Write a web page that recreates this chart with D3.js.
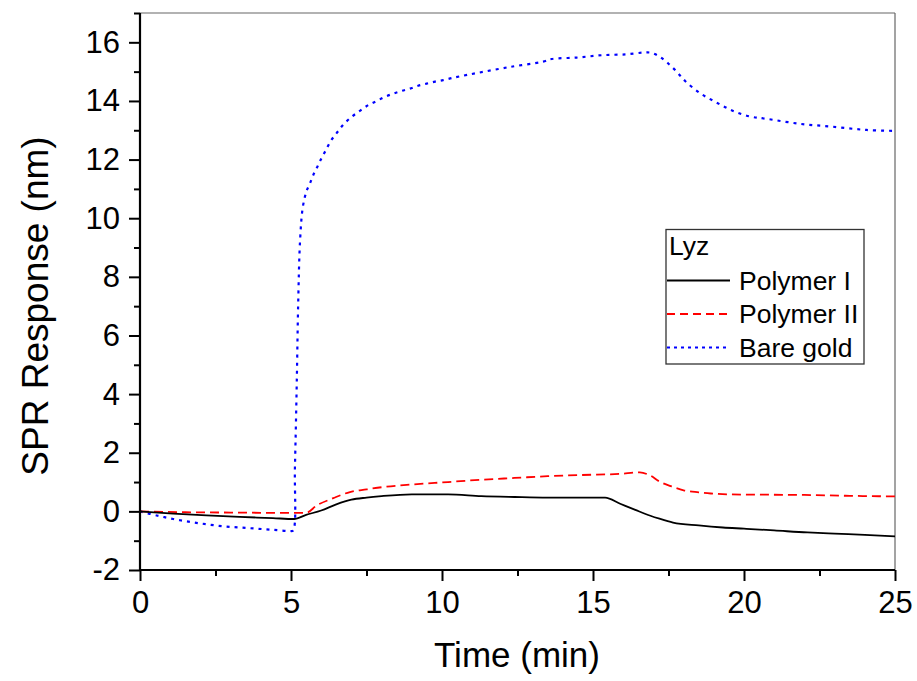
<!DOCTYPE html>
<html>
<head>
<meta charset="utf-8">
<script src="https://cdn.jsdelivr.net/npm/d3@7"></script>
<style>
  body { margin: 0; background: #fff; }
  svg { display: block; font-family: "Liberation Sans", Arial, sans-serif; }
</style>
</head>
<body>
<svg id="chart" width="917" height="681"></svg>
<script>
// ---- data ----
const xTickValues = [0, 5, 10, 15, 20, 25];
const yTickValues = [-2, 0, 2, 4, 6, 8, 10, 12, 14, 16];

const polymer1Time = [0, 1.1, 2.2, 3.3, 4.4, 5.1, 5.5, 6.0, 6.5, 7.0, 7.5, 8.0, 9.0, 10.2, 11.3, 12.4, 13.5, 14.6, 15.4, 15.9, 16.4, 16.9, 17.2, 17.65, 18.5, 19.3, 20.0, 21.0, 22.1, 23.0, 24.0, 25.0];
const polymer1Resp = [0, -0.08, -0.14, -0.19, -0.23, -0.26, -0.12, 0.03, 0.24, 0.4, 0.47, 0.52, 0.58, 0.58, 0.52, 0.49, 0.47, 0.47, 0.47, 0.26, 0.05, -0.15, -0.25, -0.38, -0.48, -0.55, -0.59, -0.65, -0.72, -0.76, -0.8, -0.85];

const polymer2Time = [0, 1.5, 3.0, 4.5, 5.5, 5.85, 6.4, 6.95, 7.5, 8.05, 9.05, 10.2, 11.3, 12.4, 13.5, 14.6, 15.9, 16.55, 16.9, 17.2, 17.6, 18.0, 18.5, 18.9, 19.5, 20.5, 22.0, 23.5, 25.0];
const polymer2Resp = [0, -0.03, -0.04, -0.05, -0.05, 0.2, 0.45, 0.66, 0.75, 0.83, 0.92, 1.0, 1.08, 1.14, 1.2, 1.24, 1.28, 1.33, 1.22, 1.02, 0.85, 0.72, 0.65, 0.61, 0.58, 0.57, 0.56, 0.53, 0.51];

const goldTime = [0, 0.55, 1.1, 1.66, 2.2, 2.76, 3.3, 3.86, 4.4, 4.97, 5.07, 5.13, 5.19, 5.24, 5.3, 5.39, 5.52, 5.63, 5.74, 5.87, 6.01, 6.16, 6.32, 6.51, 6.73, 7.01, 7.28, 7.56, 7.84, 8.11, 8.39, 8.66, 8.94, 9.21, 9.49, 9.77, 10.04, 10.32, 10.6, 11.15, 12.25, 13.35, 13.63, 14.46, 15.29, 16.1, 16.67, 16.94, 17.22, 17.5, 17.77, 18.05, 18.54, 19.1, 19.64, 20.2, 20.75, 21.85, 22.95, 24.06, 25.0];
const goldResp = [0, -0.14, -0.26, -0.36, -0.44, -0.51, -0.55, -0.59, -0.63, -0.67, -0.65, 1.5, 4.35, 7.19, 9.23, 10.37, 10.94, 11.19, 11.48, 11.75, 12.05, 12.33, 12.64, 12.9, 13.19, 13.46, 13.66, 13.86, 14.0, 14.14, 14.25, 14.34, 14.42, 14.52, 14.59, 14.66, 14.71, 14.78, 14.84, 14.95, 15.16, 15.34, 15.43, 15.48, 15.56, 15.59, 15.65, 15.64, 15.5, 15.27, 15.0, 14.68, 14.27, 13.94, 13.66, 13.47, 13.39, 13.22, 13.12, 13.01, 12.98];

const seriesNames = ["Polymer I", "Polymer II", "Bare gold"];
const seriesColors = ["#000000", "#ff0000", "#0000ff"];
const seriesDash = [null, "9,5", "3,5"];
const legendTitle = "Lyz";

(function () {
  // ---- layout ----
  const svg = d3.select("#chart");
  const pL = 140, pR = 895, pT = 13, pB = 570;
  const x = d3.scaleLinear().domain([0, 25]).range([pL, pR]);
  const y = d3.scaleLinear().domain([-2, 17]).range([pB, pT]);

  // frame (top / right) grey
  svg.append("line").attr("x1", pL).attr("x2", pR).attr("y1", pT).attr("y2", pT)
    .attr("stroke", "#666").attr("stroke-width", 1.2);
  svg.append("line").attr("x1", pR).attr("x2", pR).attr("y1", pT).attr("y2", pB)
    .attr("stroke", "#666").attr("stroke-width", 1.2);

  // series
  const series = [
    { t: polymer1Time, v: polymer1Resp },
    { t: polymer2Time, v: polymer2Resp },
    { t: goldTime, v: goldResp }
  ];
  const lineMono = d3.line().x(d => x(d[0])).y(d => y(d[1])).curve(d3.curveMonotoneX);
  const lineCR = d3.line().x(d => x(d[0])).y(d => y(d[1])).curve(d3.curveCatmullRom);
  const plot = svg.append("g");
  [2, 1, 0].forEach(i => {
    const s = series[i];
    const pts = s.t.map((t, k) => [t, s.v[k]]);
    const p = plot.append("path").datum(pts)
      .attr("d", i === 2 ? lineCR(pts) : lineMono(pts))
      .attr("fill", "none")
      .attr("stroke", seriesColors[i])
      .attr("stroke-width", i === 2 ? 2.2 : 1.8);
    if (seriesDash[i]) p.attr("stroke-dasharray", seriesDash[i]);
  });

  // axes
  const fmt = d => String(d);  // hyphen-minus like the reference
  const xAxis = d3.axisBottom(x).tickValues(xTickValues).tickFormat(fmt).tickSize(11).tickPadding(10);
  const xMinor = d3.axisBottom(x).tickValues(d3.range(2.5, 25, 5)).tickFormat("").tickSize(6);
  const yAxis = d3.axisLeft(y).tickValues(yTickValues).tickFormat(fmt).tickSize(11).tickPadding(9);
  const yMinor = d3.axisLeft(y).tickValues(d3.range(-1, 18, 2)).tickFormat("").tickSize(6);

  function styleAxis(g) {
    g.select(".domain").attr("stroke", "#000").attr("stroke-width", 2.2);
    g.selectAll(".tick line").attr("stroke", "#000").attr("stroke-width", 2);
    g.selectAll(".tick text").attr("fill", "#000")
      .style("font-family", "'Liberation Sans', Arial, sans-serif").style("font-size", "31px");
  }
  svg.append("g").attr("transform", `translate(0,${pB})`).call(xMinor).call(styleAxis).select(".domain").remove();
  svg.append("g").attr("transform", `translate(${pL},0)`).call(yMinor).call(styleAxis).select(".domain").remove();
  const gx = svg.append("g").attr("transform", `translate(0,${pB})`).call(xAxis).call(styleAxis);
  const gy = svg.append("g").attr("transform", `translate(${pL},0)`).call(yAxis).call(styleAxis);
  gy.select(".domain").attr("d", `M0,${pB}V${pT}`);
  gx.select(".domain").attr("d", `M${pL},0H${pR}`);

  // axis titles
  svg.append("text").attr("x", 517).attr("y", 667).attr("text-anchor", "middle")
    .style("font-size", "35px").attr("fill", "#000").text("Time (min)");
  svg.append("text").attr("transform", "translate(48,306) rotate(-90)").attr("text-anchor", "middle")
    .style("font-size", "37px").attr("fill", "#000").text("SPR Response (nm)");

  // legend
  const lg = svg.append("g");
  lg.append("rect").attr("x", 666).attr("y", 229.5).attr("width", 198).attr("height", 134.5)
    .attr("fill", "#fff").attr("stroke", "#333").attr("stroke-width", 1.3);
  lg.append("text").attr("x", 669).attr("y", 255).style("font-size", "26.5px").attr("fill", "#000").text(legendTitle);
  const rowY = [280.5, 314, 347.5];
  seriesNames.forEach((name, i) => {
    const l = lg.append("line").attr("x1", 667).attr("x2", 730).attr("y1", rowY[i]).attr("y2", rowY[i])
      .attr("stroke", seriesColors[i]).attr("stroke-width", i === 2 ? 2 : 1.8);
    if (seriesDash[i]) l.attr("stroke-dasharray", i === 1 ? "8,5" : "3,4");
    lg.append("text").attr("x", 739).attr("y", rowY[i] + 9).style("font-size", "26.5px").attr("fill", "#000").text(name);
  });
})();
</script>
</body>
</html>
